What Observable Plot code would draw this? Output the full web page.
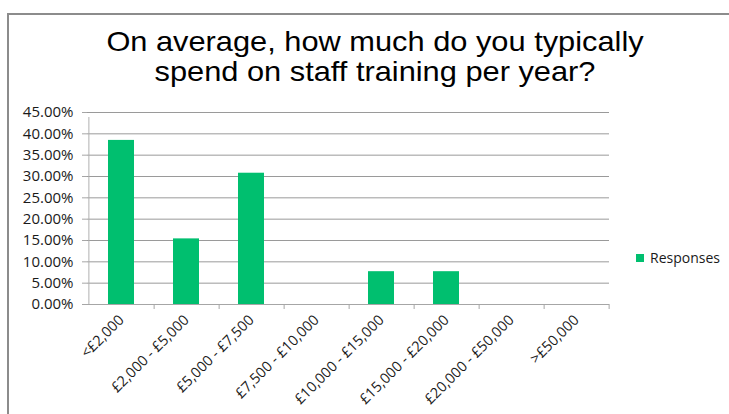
<!DOCTYPE html>
<html>
<head>
<meta charset="utf-8">
<script src="https://cdn.jsdelivr.net/npm/d3@7"></script>
<script src="https://cdn.jsdelivr.net/npm/@observablehq/plot@0.6"></script>
<style>
  html, body { margin: 0; padding: 0; background: #fff; overflow: hidden; }
  #wrap { position: relative; width: 729px; height: 414px; overflow: hidden; }
  #frame { position: absolute; left: 7px; top: 13px; width: 722px; height: 401px;
           border-left: 2px solid #8c8c8c; border-top: 2px solid #8c8c8c; box-sizing: border-box; }
  #title { position: absolute; left: 0; width: 750px; top: 26px; text-align: center;
           font-family: "Liberation Sans", Arial, sans-serif; font-size: 28.5px; line-height: 30px; color: #000;
           transform: scaleX(1.08); transform-origin: 375px 0; }
  #chart { position: absolute; left: 0; top: 0; }
  #legend { position: absolute; left: 636px; top: 248px; font-family: "Open Sans", sans-serif;
            font-size: 14px; color: #1a1a1a; display: flex; align-items: center; }
  #legend span.sw { display: inline-block; width: 8px; height: 8px; background: #00bf6f; margin-right: 6px; }
</style>
</head>
<body>
<div id="wrap">
  <div id="frame"></div>
  <div id="title">On average, how much do you typically<br>spend on staff training per year?</div>
  <div id="chart"></div>
  <div id="legend"><span class="sw"></span><span>Responses</span></div>
</div>
<script>
const categories = ["<£2,000", "£2,000 - £5,000", "£5,000 - £7,500", "£7,500 - £10,000",
                    "£10,000 - £15,000", "£15,000 - £20,000", "£20,000 - £50,000", ">£50,000"];
const responses = [0.3846, 0.1538, 0.3077, 0, 0.0769, 0.0769, 0, 0];
const yTicks = [0, 0.05, 0.10, 0.15, 0.20, 0.25, 0.30, 0.35, 0.40, 0.45];
const seriesName = "Responses";

const data = categories.map((c, i) => ({category: c, value: responses[i]}));

const W = 729, H = 414, ML = 87, MR = 120, MT = 112, MB = 110;
const half = (W - ML - MR) / categories.length / 2;

const plot = Plot.plot({
  width: W, height: H,
  marginLeft: ML, marginRight: MR, marginTop: MT, marginBottom: MB,
  style: {fontFamily: "'Open Sans', sans-serif", fontSize: "14px", color: "#1a1a1a", background: "transparent"},
  x: {domain: categories, paddingInner: 0.6, paddingOuter: 0.3, label: null},
  y: {domain: [0, 0.45], label: null},
  marks: [
    Plot.gridY(yTicks, {stroke: "#9a9a9a", strokeOpacity: 1}),
    Plot.barY(data, {x: "category", y: "value", fill: "#00bf6f"}),
    Plot.ruleY([0], {stroke: "#a6a6a6"}),
    Plot.ruleX([categories[0]], {x: d => d, dx: -half, y1: 0, y2: 0.45, stroke: "#b0b0b0", insetBottom: -5}),
    Plot.ruleX(categories, {x: d => d, dx: half, y1: 0, y2: 0, stroke: "#a6a6a6", insetBottom: -5}),
    Plot.axisY({ticks: yTicks, tickFormat: d => (d * 100).toFixed(2) + "%", tickSize: 5, tickPadding: 9,
                stroke: "#a6a6a6", fontSize: 15}),
    Plot.axisX({tickSize: 0, tickRotate: -45, tickPadding: 13, fontSize: 14.5})
  ]
});
document.getElementById("chart").appendChild(plot);
</script>
</body>
</html>
